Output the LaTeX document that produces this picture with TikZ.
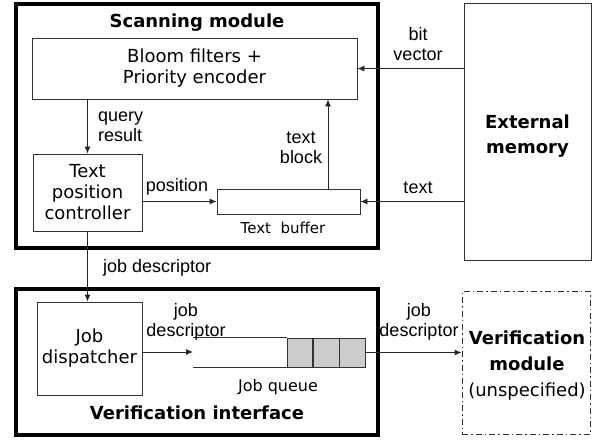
\documentclass[tikz,border=0pt]{standalone}
\usepackage{fontspec}
\setmainfont{DejaVu Sans}
\newfontfamily\lblfont{Liberation Sans}
\usetikzlibrary{arrows.meta}

\begin{document}
\begin{tikzpicture}[x=1pt,y=-1pt,
  module/.style={draw,line width=3.5pt,inner sep=0pt},
  blk/.style={draw=black!80,line width=0.9pt,inner sep=0pt,align=center,font=\fontsize{18}{21}\selectfont},
  cell/.style={draw=black!80,line width=0.9pt,fill=black!20,minimum width=25.3pt,minimum height=29pt,inner sep=0pt,anchor=west},
  lbl/.style={font=\lblfont\fontsize{18}{20}\selectfont,align=center,inner sep=0pt},
  ttl/.style={font=\bfseries\fontsize{18}{25}\selectfont,align=center,inner sep=0pt},
  arr/.style={-{Latex[length=7pt,width=6pt]},line width=0.9pt,black!85}]
\useasboundingbox (0,0) rectangle (602,440);

% scanning module
\node[module,minimum width=362pt,minimum height=244pt] (scan) at (197,126) {};
\node[ttl] (scant) at (197,23) {Scanning module};
\node[blk,minimum width=325pt,minimum height=61pt] (bloom) at (194.5,68.5) {Bloom filters +\\Priority encoder};
\node[blk,minimum width=109pt,minimum height=77pt] (tpc) at (87.5,192.5) {Text\\position\\controller};
\node[blk,minimum width=143pt,minimum height=25pt] (buffer) at (288.5,201.5) {};
\node[font=\fontsize{15}{18}\selectfont,inner sep=0pt] (buft) at (283,228) {Text\ \ buffer};
\node[blk,minimum width=127pt,minimum height=257pt] (ext) at (527.5,131.5) {};
\node[ttl] (extt) at (527.5,136) {External\\memory};

% verification interface
\node[module,minimum width=362pt,minimum height=146pt] (verif) at (197,362) {};
\node[ttl] (verift) at (197,413) {Verification interface};
\node[blk,minimum width=105pt,minimum height=93pt] (jd) at (89.5,348.5) {Job\\dispatcher};
\node[cell] (q1) at (287,352.5) {};
\node[cell] (q2) at (q1.east) {};
\node[cell] (q3) at (q2.east) {};
\draw[black!80,line width=0.9pt] (q1.north west) -- ++(-94,0) (q1.south west) -- ++(-94,0);
\node[font=\fontsize{16}{18}\selectfont,inner sep=0pt] (qt) at (278,387) {Job queue};
\node[blk,dash pattern=on 6pt off 3pt on 1.5pt off 3pt,minimum width=128pt,minimum height=143pt] (vm) at (526,362.5) {};
\node[font=\fontsize{18}{26}\selectfont,align=center,inner sep=0pt] (vmt) at (527,366) {\textbf{Verification}\\\textbf{module}\\(unspecified)};

% connectors
\coordinate (tb) at (328,189);
\coordinate (qin) at (193,352);
\draw[arr] (ext.west |- bloom.east) -- (bloom.east);
\draw[arr] (ext.west |- buffer.east) -- (buffer.east);
\draw[arr] (bloom.south -| tpc.north) -- (tpc.north);
\draw[arr] (tpc.east |- buffer.west) -- (buffer.west);
\draw[arr] (tb) -- (tb |- bloom.south);
\draw[arr] (tpc.south) -- (tpc.south |- jd.north);
\draw[arr] (jd.east |- qin) -- (qin);
\draw[arr] (q3.east) -- (vm.west |- q3.east);

% labels
\node[lbl] at (418,44) {bit\\vector};
\node[lbl] at (418,188) {text};
\node[lbl,align=left,anchor=west] at (98,127) {query\\result};
\node[lbl] at (177,187) {position};
\node[lbl] at (301,148) {text\\block};
\node[lbl,anchor=west] at (103,268) {job descriptor};
\node[lbl] at (186,322) {job\\descriptor};
\node[lbl] at (419,322) {job\\descriptor};
\end{tikzpicture}
\end{document}
